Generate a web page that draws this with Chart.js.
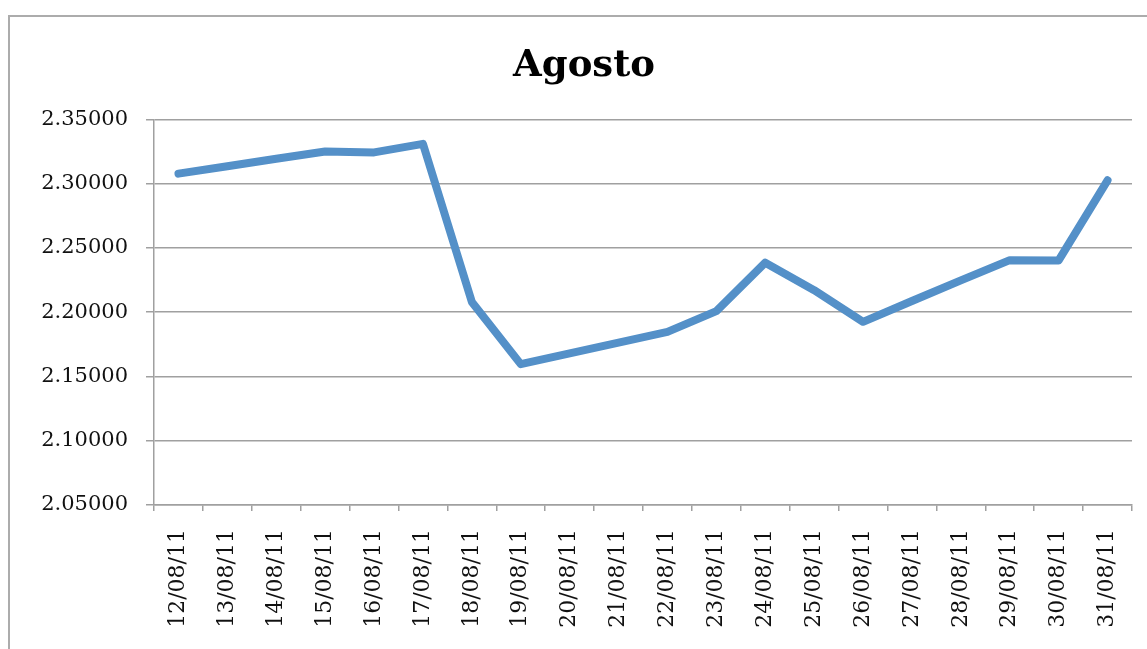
<!DOCTYPE html>
<html>
<head>
<meta charset="utf-8">
<script src="https://cdn.jsdelivr.net/npm/chart.js@4"></script>
<style>
  body { margin: 0; background: #fff; overflow: hidden; }
  #frame { position: absolute; left: 8px; top: 15px; width: 1200px; height: 700px; border: 2px solid #acacac; }
  #wrap { position: absolute; left: 0; top: 0; width: 1147px; height: 649px; }
</style>
</head>
<body>
<div id="frame"></div>
<div id="wrap"><canvas id="myChart" width="1147" height="649"></canvas></div>
<script>
// dados
const dias = ['12/08/11', '13/08/11', '14/08/11', '15/08/11', '16/08/11', '17/08/11', '18/08/11',
  '19/08/11', '20/08/11', '21/08/11', '22/08/11', '23/08/11', '24/08/11', '25/08/11',
  '26/08/11', '27/08/11', '28/08/11', '29/08/11', '30/08/11', '31/08/11'];
const valores = [2.3078, 2.3136, 2.3194, 2.3250, 2.3243, 2.3310, 2.2080, 2.1596, 2.1680, 2.1764,
  2.1847, 2.2008, 2.2385, 2.2171, 2.1925, 2.2087, 2.2248, 2.2405, 2.2403, 2.3026];
const yMin = 2.05;
const yMax = 2.35;
const yStep = 0.05;

const config = {
  type: 'line',
  data: {
    labels: dias,
    datasets: [
      {
        label: 'Agosto',
        data: valores,
        borderColor: '#5490c8',
        backgroundColor: '#5490c8',
        borderWidth: 8,
        borderCapStyle: 'round',
        borderJoinStyle: 'round',
        pointRadius: 0,
        tension: 0,
      },
    ],
  },
  options: {
    responsive: false,
    animation: false,
    layout: { padding: { left: 36, right: 15, top: 0, bottom: 0 } },
    plugins: {
      legend: { display: false },
      tooltip: { enabled: false },
      title: {
        display: true,
        text: 'Agosto',
        color: '#000',
        font: { family: 'DejaVu Serif', size: 37, weight: 'bold' },
        padding: { top: 44, bottom: 31 },
      },
    },
    scales: {
      x: {
        offset: true,
        grid: { display: true, drawOnChartArea: false, offset: true, tickLength: 6, color: '#a0a0a0', lineWidth: 1.5 },
        border: { color: '#a0a0a0', width: 1.5 },
        ticks: {
          autoSkip: false,
          minRotation: 90,
          maxRotation: 90,
          padding: 18,
          color: '#111',
          font: { family: 'DejaVu Serif', size: 22 },
        },
        afterFit: (scale) => {
          scale.height = 144;
          scale.paddingLeft = 0;
          scale.paddingRight = 0;
        },
      },
      y: {
        min: yMin,
        max: yMax,
        grid: { color: '#a0a0a0', lineWidth: 1.5, tickLength: 8 },
        border: { color: '#a0a0a0', width: 1.5 },
        ticks: {
          stepSize: yStep,
          padding: 18,
          color: '#111',
          font: { family: 'DejaVu Serif', size: 21 },
          callback: (v) => v.toFixed(5),
        },
        afterFit: (scale) => { scale.width = 118; },
      },
    },
  },
};

var myChart = new Chart(document.getElementById('myChart'), config);
</script>
</body>
</html>
